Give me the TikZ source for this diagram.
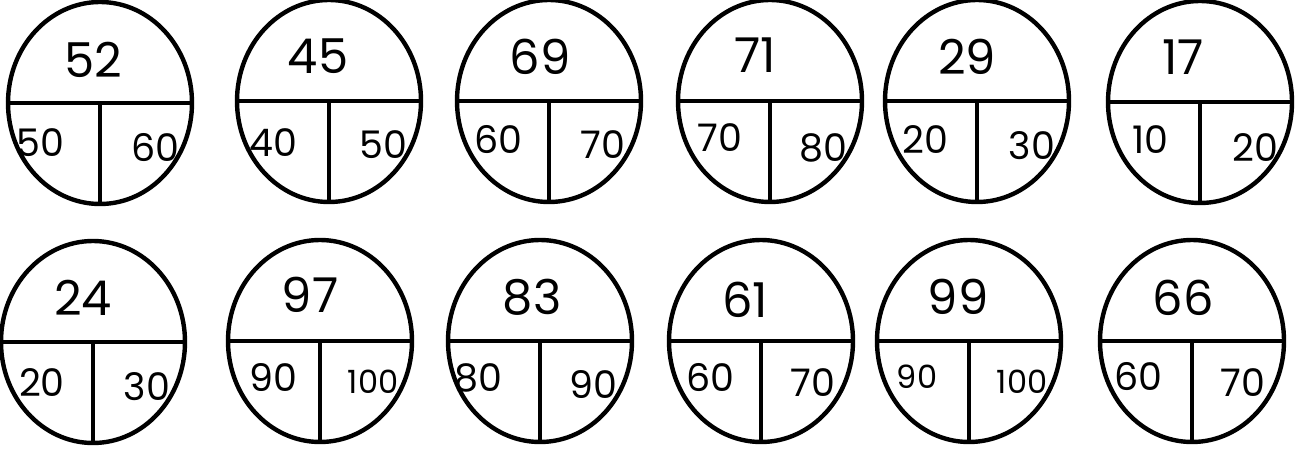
\documentclass[tikz,border=0pt]{standalone}
\usepackage{fontspec}
\setmainfont{Poppins}
\usetikzlibrary{shapes.geometric}
\tikzset{
  ring/.style={ellipse, draw=black, line width=4.4pt, minimum width=184pt,
               minimum height=202pt, inner sep=0pt},
  divider/.style={line width=3.2pt, black},
  topnum/.style={font=\fontsize{48}{48}\selectfont, inner sep=0pt},
  botnum/.style={font=\fontsize{38}{38}\selectfont, inner sep=0pt},
  smallnum/.style={font=\fontsize{32}{32}\selectfont, inner sep=0pt},
}
\begin{document}
\begin{tikzpicture}[x=1pt, y=-1pt]
  \useasboundingbox (0,0) rectangle (1296,452);
  % top row
  \node[ring] (ra) at (100,103) {};
  \node[ring] (rb) at (329,101) {};
  \node[ring] (rc) at (549,101) {};
  \node[ring] (rd) at (770,101) {};
  \node[ring] (re) at (977,101) {};
  \node[ring] (rf) at (1200,102) {};
  % bottom row
  \node[ring] (sa) at (93,342) {};
  \node[ring] (sb) at (320,341) {};
  \node[ring] (sc) at (540,341) {};
  \node[ring] (sd) at (761,341) {};
  \node[ring] (se) at (969,341) {};
  \node[ring] (sf) at (1192,341) {};
  % dividers
  \draw[divider] (ra.west) -- (ra.east) (ra.center) -- (ra.south);
  \draw[divider] (rb.west) -- (rb.east) (rb.center) -- (rb.south);
  \draw[divider] (rc.west) -- (rc.east) (rc.center) -- (rc.south);
  \draw[divider] (rd.west) -- (rd.east) (rd.center) -- (rd.south);
  \draw[divider] (re.west) -- (re.east) (re.center) -- (re.south);
  \draw[divider] (rf.west) -- (rf.east) (rf.center) -- (rf.south);
  \draw[divider] (sa.west) -- (sa.east) (sa.center) -- (sa.south);
  \draw[divider] (sb.west) -- (sb.east) (sb.center) -- (sb.south);
  \draw[divider] (sc.west) -- (sc.east) (sc.center) -- (sc.south);
  \draw[divider] (sd.west) -- (sd.east) (sd.center) -- (sd.south);
  \draw[divider] (se.west) -- (se.east) (se.center) -- (se.south);
  \draw[divider] (sf.west) -- (sf.east) (sf.center) -- (sf.south);
  % numbers, top row
  \node[topnum] (ra-n) at (93,60) {52};
  \node[botnum] (ra-l) at (40,143) {50};
  \node[botnum] (ra-r) at (155,148) {60};
  \node[topnum] (rb-n) at (318,56) {45};
  \node[botnum] (rb-l) at (273,143) {40};
  \node[botnum] (rb-r) at (383,145) {50};
  \node[topnum] (rc-n) at (540,57) {69};
  \node[botnum] (rc-l) at (498,140) {60};
  \node[botnum] (rc-r) at (603,145) {70};
  \node[topnum] (rd-n) at (755,55) {71};
  \node[botnum] (rd-l) at (720,138) {70};
  \node[botnum] (rd-r) at (823,148) {80};
  \node[topnum] (re-n) at (967,57) {29};
  \node[botnum] (re-l) at (925,140) {20};
  \node[botnum] (re-r) at (1032,146) {30};
  \node[topnum] (rf-n) at (1183,57) {17};
  \node[botnum] (rf-l) at (1150,140) {10};
  \node[botnum] (rf-r) at (1255,148) {20};
  % numbers, bottom row
  \node[topnum] (sa-n) at (83,298) {24};
  \node[botnum] (sa-l) at (42,383) {20};
  \node[botnum] (sa-r) at (147,387) {30};
  \node[topnum] (sb-n) at (310,295) {97};
  \node[botnum] (sb-l) at (273,378) {90};
  \node[smallnum] (sb-r) at (373,382) {100};
  \node[topnum] (sc-n) at (532,297) {83};
  \node[botnum] (sc-l) at (478,378) {80};
  \node[botnum] (sc-r) at (593,385) {90};
  \node[topnum] (sd-n) at (745,300) {61};
  \node[botnum] (sd-l) at (710,378) {60};
  \node[botnum] (sd-r) at (813,383) {70};
  \node[topnum] (se-n) at (958,297) {99};
  \node[smallnum] (se-l) at (917,377) {90};
  \node[smallnum] (se-r) at (1022,382) {100};
  \node[topnum] (sf-n) at (1183,298) {66};
  \node[botnum] (sf-l) at (1138,377) {60};
  \node[botnum] (sf-r) at (1243,383) {70};
\end{tikzpicture}
\end{document}
